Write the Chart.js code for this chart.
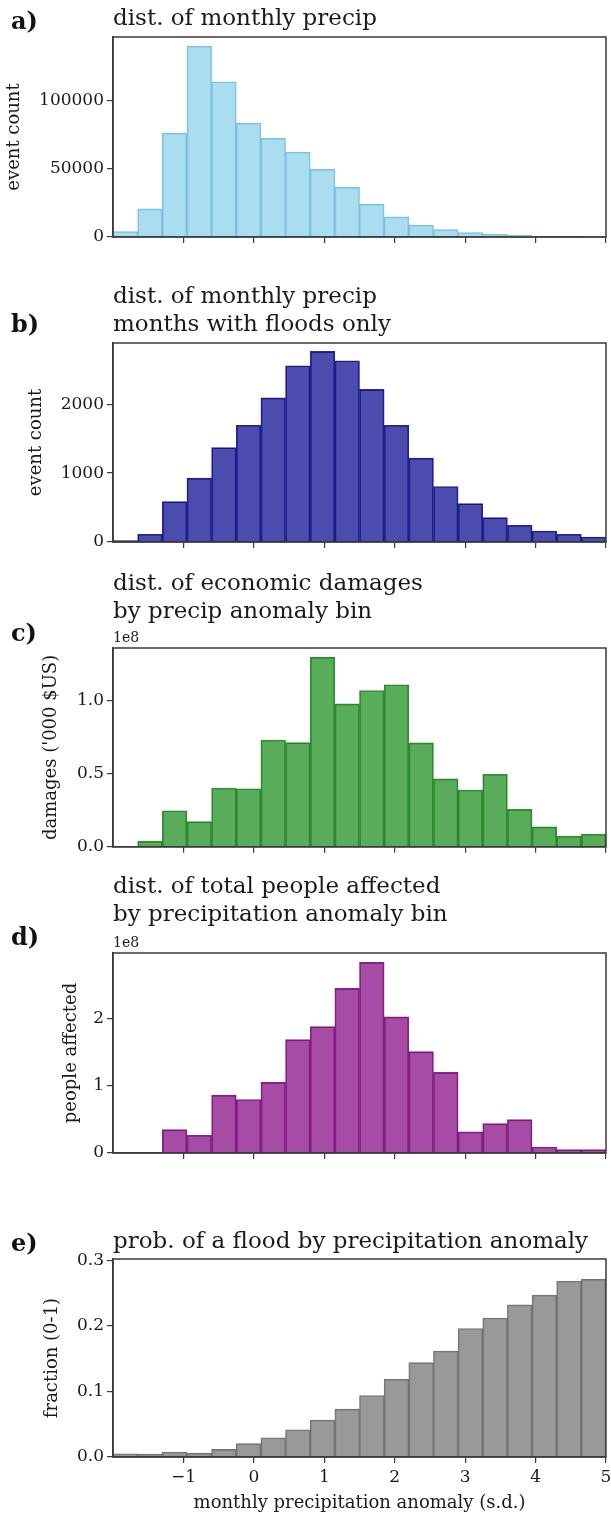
<!DOCTYPE html>
<html>
<head>
<meta charset="utf-8">
<script src="https://cdn.jsdelivr.net/npm/chart.js@4.4.1/dist/chart.umd.min.js"></script>
<style>
  body { margin: 0; background: #fff; }
  #wrap { position: relative; width: 611px; height: 1517px; }
  canvas { position: absolute; left: 0; }
  .tag { position: absolute; left: 11px; font: bold 24px "DejaVu Serif"; line-height: 24px; color: #111; }
</style>
</head>
<body>
<div id="wrap">
  <canvas id="chartA" width="611" height="260" style="top:0px"></canvas>
  <canvas id="chartB" width="611" height="290" style="top:270px"></canvas>
  <canvas id="chartC" width="611" height="300" style="top:560px"></canvas>
  <canvas id="chartD" width="611" height="310" style="top:860px"></canvas>
  <canvas id="chartE" width="611" height="347" style="top:1170px"></canvas>
  <div class="tag" style="top:9px">a)</div>
  <div class="tag" style="top:312px">b)</div>
  <div class="tag" style="top:621px">c)</div>
  <div class="tag" style="top:925px">d)</div>
  <div class="tag" style="top:1231px">e)</div>
</div>
<script>
// bin centres of the 20 precip anomaly bins (s.d.), bins are 0.35 wide from -2 to 5
const binCenters = [-1.825, -1.475, -1.125, -0.775, -0.425, -0.075, 0.275, 0.625, 0.975, 1.325,
                    1.675, 2.025, 2.375, 2.725, 3.075, 3.425, 3.775, 4.125, 4.475, 4.825];

const precipCounts = [3900, 20600, 76000, 139700, 113700, 83300, 72300, 62200, 49500, 36300,
                      24000, 14700, 8600, 5400, 3200, 2000, 1200, 700, 400, 200];

const floodMonthCounts = [20, 112, 587, 927, 1369, 1694, 2092, 2558, 2767, 2631,
                          2214, 1694, 1218, 806, 558, 354, 243, 160, 112, 73];

const damages = [0, 3.9e6, 2.47e7, 1.72e7, 4.03e7, 3.98e7, 7.32e7, 7.14e7, 1.30e8, 9.79e7,
                 1.071e8, 1.11e8, 7.12e7, 4.65e7, 3.89e7, 4.97e7, 2.56e7, 1.37e7, 7.3e6, 8.7e6];

const peopleAffected = [0, 0, 3.47e7, 2.63e7, 8.59e7, 7.94e7, 1.047e8, 1.682e8, 1.876e8, 2.442e8,
                        2.829e8, 2.02e8, 1.504e8, 1.196e8, 3.13e7, 4.37e7, 4.96e7, 8.9e6, 5e6, 5e6];

const floodProb = [0.005, 0.0045, 0.0076, 0.006, 0.0117, 0.0203, 0.0294, 0.0416, 0.0563, 0.073,
                   0.0938, 0.1186, 0.144, 0.1617, 0.196, 0.212, 0.232, 0.247, 0.268, 0.271];

// tick positions
const xTicks = [-1, 0, 1, 2, 3, 4, 5];
const countTicksA = [0, 50000, 100000];
const countTicksB = [0, 1000, 2000];
const damageTicks = [0, 0.5e8, 1.0e8];
const peopleTicks = [0, 1e8, 2e8];
const fracTicks = [0, 0.1, 0.2, 0.3];

const SERIF = "DejaVu Serif";
const INK = "#1a1a1a";
const AXIS = "#3a3a3a";

const framePlugin = {
    id: "frame",
    afterDatasetsDraw(chart){
        const {ctx, chartArea: a} = chart;
        ctx.save();
        ctx.strokeStyle = AXIS;
        ctx.lineWidth = 1.5;
        ctx.strokeRect(a.left, a.top, a.right - a.left, a.bottom - a.top);
        ctx.restore();
    }
};

function histBuilder(id, values, cfg){

    let points = [];
    binCenters.forEach((x, i) =>{
        points.push({x: x, y: values[i]});
    });

    const isLast = !!cfg.xTitle;

    new Chart(id, {
        type: "bar",
        data: {
            datasets: [{
                data: points,
                backgroundColor: cfg.fill,
                borderColor: cfg.edge,
                borderWidth: 1,
                barPercentage: 1,
                categoryPercentage: 1
            }]
        },
        plugins: [framePlugin],
        options: {
            responsive: false,
            animation: false,
            devicePixelRatio: 1,
            layout: { padding: { left: 0, right: 5, top: 0, bottom: 0 } },
            plugins: {
                legend: { display: false },
                tooltip: { enabled: false },
                title: {
                    display: true,
                    text: cfg.title,
                    align: "start",
                    fullSize: false,
                    color: INK,
                    font: { family: SERIF, size: 23, weight: "normal", lineHeight: 28 / 23 },
                    padding: { top: cfg.titleTop, bottom: cfg.titleBottom }
                },
                subtitle: {
                    display: !!cfg.offsetText,
                    text: cfg.offsetText || "",
                    align: "start",
                    fullSize: false,
                    color: INK,
                    font: { family: SERIF, size: 14, lineHeight: 20 / 14 },
                    padding: 0
                }
            },
            scales: {
                x: {
                    type: "linear",
                    min: -2,
                    max: 5,
                    offset: false,
                    afterBuildTicks: (scale) =>{
                        scale.ticks = xTicks.map(v => ({value: v}));
                    },
                    afterFit: (scale) =>{
                        scale.height = cfg.xHeight;
                        scale.paddingLeft = 0;
                        scale.paddingRight = 0;
                    },
                    grid: { display: true, offset: false, drawOnChartArea: false, drawTicks: true, tickLength: 6, color: AXIS, lineWidth: 1.2 },
                    border: { display: true, color: AXIS, width: 1.5 },
                    ticks: {
                        display: isLast,
                        color: INK,
                        padding: 4,
                        maxRotation: 0,
                        autoSkip: false,
                        font: { family: SERIF, size: 17 },
                        callback: (v) => v < 0 ? "\u2212" + Math.abs(v) : String(v)
                    },
                    title: {
                        display: isLast,
                        text: cfg.xTitle || "",
                        color: INK,
                        font: { family: SERIF, size: 18 },
                        padding: { top: 0, bottom: 3 }
                    }
                },
                y: {
                    min: 0,
                    max: cfg.yMax,
                    afterBuildTicks: (scale) =>{
                        scale.ticks = cfg.yTicks.map(v => ({value: v}));
                    },
                    afterFit: (scale) =>{
                        scale.width = 113;
                    },
                    grid: { display: true, drawOnChartArea: false, drawTicks: true, tickLength: 6, color: AXIS, lineWidth: 1.2 },
                    border: { display: true, color: AXIS, width: 1.5 },
                    ticks: {
                        color: INK,
                        padding: 3,
                        font: { family: SERIF, size: 17 },
                        callback: cfg.yFormat
                    },
                    title: {
                        display: true,
                        text: cfg.yTitle,
                        color: INK,
                        font: { family: SERIF, size: 18 },
                        padding: { top: cfg.yTitlePad, bottom: 0 }
                    }
                }
            }
        }
    });
}

histBuilder("chartA", precipCounts, {
    title: "dist. of monthly precip",
    titleTop: 5, titleBottom: 4,
    fill: "rgba(135,206,235,0.7)", edge: "rgba(110,185,220,0.9)",
    yMax: 146500, yTicks: countTicksA, yFormat: (v) => String(v),
    yTitle: "event count", yTitlePad: 4,
    xHeight: 23
});

histBuilder("chartB", floodMonthCounts, {
    title: ["dist. of monthly precip", "months with floods only"],
    titleTop: 13, titleBottom: 4,
    fill: "rgba(0,0,139,0.7)", edge: "rgba(20,20,120,0.9)",
    yMax: 2888, yTicks: countTicksB, yFormat: (v) => String(v),
    yTitle: "event count", yTitlePad: 26,
    xHeight: 18
});

histBuilder("chartC", damages, {
    title: ["dist. of economic damages", "by precip anomaly bin"],
    titleTop: 10, titleBottom: 2,
    offsetText: "1e8",
    fill: "rgba(0,128,0,0.65)", edge: "rgba(30,120,30,0.85)",
    yMax: 1.362e8, yTicks: damageTicks, yFormat: (v) => (v / 1e8).toFixed(1),
    yTitle: "damages ('000 $US)", yTitlePad: 41,
    xHeight: 13
});

histBuilder("chartD", peopleAffected, {
    title: ["dist. of total people affected", "by precipitation anomaly bin"],
    titleTop: 13, titleBottom: 4,
    offsetText: "1e8",
    fill: "rgba(128,0,128,0.7)", edge: "rgba(115,20,115,0.9)",
    yMax: 2.968e8, yTicks: peopleTicks, yFormat: (v) => String(Math.round(v / 1e8)),
    yTitle: "people affected", yTitlePad: 61,
    xHeight: 17
});

histBuilder("chartE", floodProb, {
    title: "prob. of a flood by precipitation anomaly",
    titleTop: 58, titleBottom: 3,
    fill: "rgba(128,128,128,0.8)", edge: "rgba(100,100,100,0.9)",
    yMax: 0.302, yTicks: fracTicks, yFormat: (v) => v.toFixed(1),
    yTitle: "fraction (0-1)", yTitlePad: 42,
    xTitle: "monthly precipitation anomaly (s.d.)",
    xHeight: 60
});
</script>
</body>
</html>
